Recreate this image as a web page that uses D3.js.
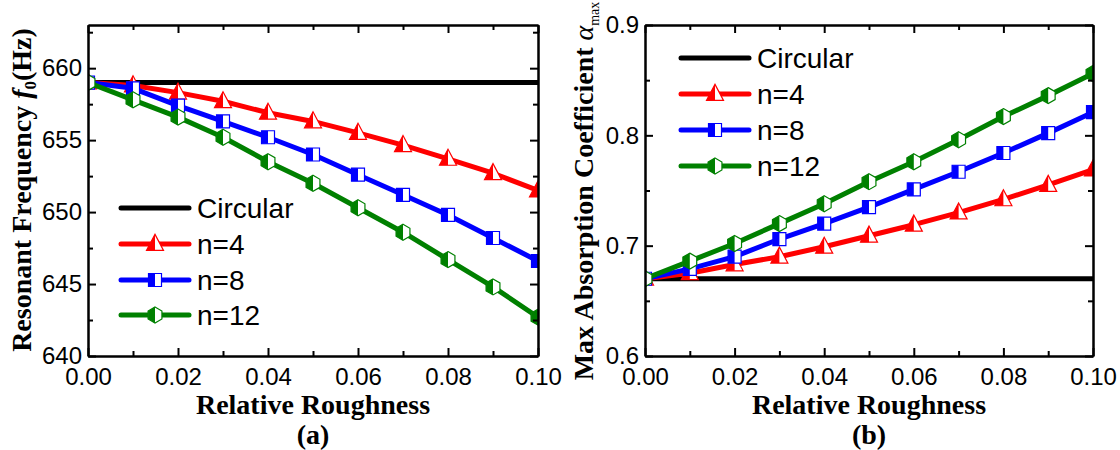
<!DOCTYPE html>
<html>
<head>
<meta charset="utf-8">
<script src="https://cdn.jsdelivr.net/npm/d3@7"></script>
<style>
  body { margin: 0; background: #fff; }
  .tick text { font-family: "Liberation Sans", Arial, sans-serif; font-size: 24px; fill: #000; }
  .axis path, .axis line { stroke: #000; }
  .title { font-family: "Liberation Serif", "Times New Roman", serif; font-weight: bold; font-size: 28px; fill: #000; }
  .legend { font-family: "Liberation Sans", Arial, sans-serif; font-size: 28px; fill: #000; }
</style>
</head>
<body>
<svg id="chart"></svg>
<script>
// roughness values (shared x)
const xValues = [0, 0.01, 0.02, 0.03, 0.04, 0.05, 0.06, 0.07, 0.08, 0.09, 0.10];
const seriesNames = ["Circular", "n=4", "n=8", "n=12"];

// (a) resonant frequency, Hz
const freqCircular = [659.0, 659.0, 659.0, 659.0, 659.0, 659.0, 659.0, 659.0, 659.0, 659.0, 659.0];
const freqN4 = [659.0, 658.8, 658.3, 657.7, 656.9, 656.3, 655.5, 654.65, 653.7, 652.7, 651.5];
const freqN8 = [659.0, 658.6, 657.4, 656.3, 655.2, 654.0, 652.6, 651.2, 649.8, 648.2, 646.6];
const freqN12 = [659.0, 657.8, 656.6, 655.2, 653.5, 652.0, 650.3, 648.6, 646.7, 644.8, 642.7];

// (b) max absorption coefficient
const alphaCircular = [0.670, 0.670, 0.670, 0.670, 0.670, 0.670, 0.670, 0.670, 0.670, 0.670, 0.670];
const alphaN4 = [0.670, 0.675, 0.683, 0.690, 0.699, 0.709, 0.719, 0.730, 0.742, 0.755, 0.769];
const alphaN8 = [0.670, 0.679, 0.690, 0.706, 0.720, 0.735, 0.751, 0.767, 0.784, 0.802, 0.821];
const alphaN12 = [0.670, 0.686, 0.702, 0.720, 0.738, 0.758, 0.776, 0.796, 0.817, 0.836, 0.856];

const xTicks = [0, 0.02, 0.04, 0.06, 0.08, 0.10];
const xMinorTicks = [0.01, 0.03, 0.05, 0.07, 0.09];
const freqTicks = [640, 645, 650, 655, 660];
const freqMinorTicks = [642.5, 647.5, 652.5, 657.5, 662.5];
const alphaTicks = [0.6, 0.7, 0.8, 0.9];
const alphaMinorTicks = [0.65, 0.75, 0.85];

const colors = ["#000000", "#ff0000", "#0000ff", "#008000"];
const markers = [null, "triangle", "square", "hexagon"];

const width = 1120;
const height = 450;

const svg = d3.select("#chart").attr("width", width).attr("height", height);
svg.append("rect").attr("width", width).attr("height", height).attr("fill", "#fff");

// marker outline + left-half fill paths
const markerPaths = (type) => {
    if (type === "triangle") {
        const w = 17, h = 16;
        return {
            full: `M0,${-h * 0.6}L${w / 2},${h * 0.4}L${-w / 2},${h * 0.4}Z`,
            half: `M0,${-h * 0.6}L0,${h * 0.4}L${-w / 2},${h * 0.4}Z`
        };
    }
    if (type === "square") {
        const s = 13;
        return {
            full: `M${-s / 2},${-s / 2}h${s}v${s}h${-s}Z`,
            half: `M${-s / 2},${-s / 2}h${s / 2}v${s}h${-s / 2}Z`
        };
    }
    const r = 8, a = r * Math.cos(Math.PI / 6);
    return {
        full: `M0,${-r}L${a},${-r / 2}L${a},${r / 2}L0,${r}L${-a},${r / 2}L${-a},${-r / 2}Z`,
        half: `M0,${-r}L0,${r}L${-a},${r / 2}L${-a},${-r / 2}Z`
    };
};

const drawPanel = (cfg) => {
    const g = svg.append("g");
    const xScale = d3.scaleLinear().domain([0, 0.10]).range([cfg.left, cfg.right]);
    const yScale = d3.scaleLinear().domain(cfg.yDomain).range([cfg.bottom, cfg.top]);

    const clipId = "clip-" + cfg.id;
    svg.append("clipPath").attr("id", clipId)
        .append("rect")
        .attr("x", cfg.left).attr("y", cfg.top)
        .attr("width", cfg.right - cfg.left).attr("height", cfg.bottom - cfg.top);

    const plot = g.append("g").attr("clip-path", `url(#${clipId})`);
    const line = d3.line().x((d, i) => xScale(xValues[i])).y(d => yScale(d));

    cfg.series.forEach((values, k) => {
        plot.append("path")
            .datum(values)
            .attr("d", line)
            .attr("fill", "none")
            .attr("stroke", colors[k])
            .attr("stroke-width", 5)
            .attr("stroke-linejoin", "round");
        if (!markers[k]) return;
        const p = markerPaths(markers[k]);
        const m = plot.selectAll(null)
            .data(values)
            .enter()
            .append("g")
            .attr("transform", (d, i) => `translate(${xScale(xValues[i])},${yScale(d)})`);
        m.append("path").attr("d", p.full).attr("fill", "#fff").attr("stroke", colors[k]).attr("stroke-width", 1.2);
        m.append("path").attr("d", p.half).attr("fill", colors[k]);
    });

    // axes with inward ticks on all four sides
    const addAxis = (axis, transform, labels) => {
        const a = g.append("g").attr("class", "axis").attr("transform", transform).call(axis);
        a.select(".domain").attr("stroke-width", 2);
        a.selectAll(".tick line").attr("stroke-width", 2);
        if (!labels) a.selectAll(".tick text").remove();
        return a;
    };
    const yFormat = d3.format(cfg.yFormat);
    const xFormat = d3.format(".2f");

    addAxis(d3.axisBottom(xScale).tickValues(xTicks).tickSize(-8).tickSizeOuter(0).tickPadding(12).tickFormat(xFormat),
        `translate(0,${cfg.bottom})`, true);
    addAxis(d3.axisBottom(xScale).tickValues(xMinorTicks).tickSize(-5).tickSizeOuter(0),
        `translate(0,${cfg.bottom})`, false);
    addAxis(d3.axisTop(xScale).tickValues(xTicks).tickSize(-8).tickSizeOuter(0),
        `translate(0,${cfg.top})`, false);
    addAxis(d3.axisTop(xScale).tickValues(xMinorTicks).tickSize(-5).tickSizeOuter(0),
        `translate(0,${cfg.top})`, false);
    addAxis(d3.axisLeft(yScale).tickValues(cfg.yTicks).tickSize(-8).tickSizeOuter(0).tickPadding(6).tickFormat(yFormat),
        `translate(${cfg.left},0)`, true);
    addAxis(d3.axisLeft(yScale).tickValues(cfg.yMinor).tickSize(-5).tickSizeOuter(0),
        `translate(${cfg.left},0)`, false);
    addAxis(d3.axisRight(yScale).tickValues(cfg.yTicks).tickSize(-8).tickSizeOuter(0),
        `translate(${cfg.right},0)`, false);
    addAxis(d3.axisRight(yScale).tickValues(cfg.yMinor).tickSize(-5).tickSizeOuter(0),
        `translate(${cfg.right},0)`, false);

    // titles
    const cx = (cfg.left + cfg.right) / 2;
    g.append("text").attr("class", "title").attr("x", cx).attr("y", 414)
        .attr("text-anchor", "middle").text("Relative Roughness");
    g.append("text").attr("class", "title").attr("x", cx).attr("y", 444)
        .attr("text-anchor", "middle").text(cfg.label);

    const yt = g.append("text").attr("class", "title")
        .attr("font-size", cfg.yTitleSize)
        .attr("transform", `translate(${cfg.yTitleX},${cfg.yTitleY}) rotate(-90)`)
        .attr("text-anchor", "middle");
    cfg.yTitle(yt);

    // legend
    cfg.legendRows.forEach((ly, k) => {
        const lg = g.append("g").attr("transform", `translate(${cfg.legendX},${ly})`);
        lg.append("line").attr("x1", 0).attr("x2", 68)
            .attr("stroke", colors[k]).attr("stroke-width", 5).attr("stroke-linecap", "round");
        if (markers[k]) {
            const p = markerPaths(markers[k]);
            const mk = lg.append("g").attr("transform", "translate(34,0)");
            mk.append("path").attr("d", p.full).attr("fill", "#fff").attr("stroke", colors[k]).attr("stroke-width", 1.2);
            mk.append("path").attr("d", p.half).attr("fill", colors[k]);
        }
        lg.append("text").attr("class", "legend").attr("x", 76).attr("y", 10).text(seriesNames[k]);
    });
};

drawPanel({
    id: "a", left: 88, right: 538, top: 25, bottom: 356,
    yDomain: [640, 663], yTicks: freqTicks, yMinor: freqMinorTicks, yFormat: "d",
    series: [freqCircular, freqN4, freqN8, freqN12],
    label: "(a)", yTitleX: 31, yTitleY: 190, yTitleSize: "28px",
    yTitle: (t) => {
        t.append("tspan").text("Resonant Frequency ");
        t.append("tspan").attr("font-style", "italic").text("f");
        t.append("tspan").attr("font-size", "17px").attr("dy", 5).text("0");
        t.append("tspan").attr("dy", -5).text("(Hz)");
    },
    legendX: 121, legendRows: [208, 244, 280, 315]
});

drawPanel({
    id: "b", left: 645, right: 1093, top: 25, bottom: 356,
    yDomain: [0.6, 0.9], yTicks: alphaTicks, yMinor: alphaMinorTicks, yFormat: ".1f",
    series: [alphaCircular, alphaN4, alphaN8, alphaN12],
    label: "(b)", yTitleX: 593, yTitleY: 191, yTitleSize: "27px",
    yTitle: (t) => {
        t.append("tspan").text("Max Absorption Coefficient ");
        t.append("tspan").attr("font-style", "italic").attr("font-weight", "normal").text("α");
        t.append("tspan").attr("font-size", "14px").attr("font-weight", "normal").attr("dy", 6).text("max");
    },
    legendX: 681, legendRows: [58, 94, 130, 166]
});
</script>
</body>
</html>
